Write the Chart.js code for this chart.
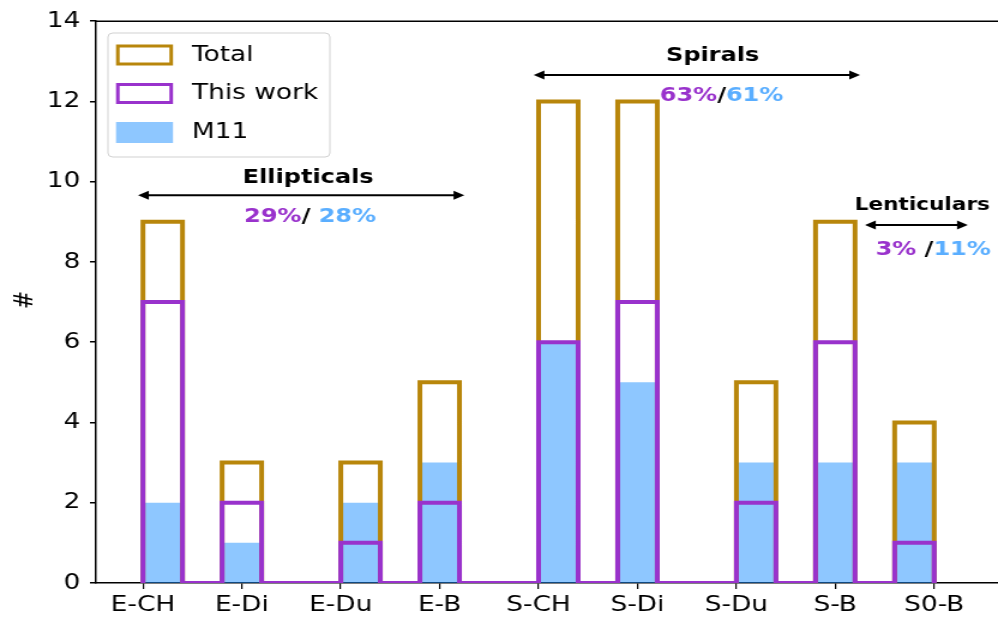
<!DOCTYPE html>
<html>
<head>
<meta charset="utf-8">
<script src="https://cdn.jsdelivr.net/npm/chart.js@4/dist/chart.umd.min.js"></script>
<style>
  html, body { margin: 0; padding: 0; background: #fff; overflow: hidden; }
  #wrap { width: 832px; height: 621px; transform: scaleX(1.1995); transform-origin: 0 0; }
  canvas { display: block; }
</style>
</head>
<body>
<div id="wrap"><canvas id="c" width="832" height="621"></canvas></div>
<script>
// Morphological classes and galaxy counts per class
const categories     = ['E-CH', 'E-Di', 'E-Du', 'E-B', 'S-CH', 'S-Di', 'S-Du', 'S-B', 'S0-B'];
const totalCounts    = [9, 3, 3, 5, 12, 12, 5, 9, 4];
const thisWorkCounts = [7, 2, 1, 2, 6, 7, 2, 6, 1];
const m11Counts      = [2, 1, 2, 3, 6, 5, 3, 3, 3];
const yTicks         = [0, 2, 4, 6, 8, 10, 12, 14];

// Group labels and the share of each sample falling in the group
const groupLabels    = ['Ellipticals', 'Spirals', 'Lenticulars'];
const thisWorkShares = ['29%', '63%', '3% '];
const m11Shares      = [' 28%', '61%', '11%'];

const GOLD   = '#b8860b';
const PURPLE = '#9932cc';
const BLUE_FILL = 'rgba(30,144,255,0.5)';
const BLUE_TEXT = '#5aaeff';
const FONT = 'DejaVu Sans';

// Histogram over [0, 8] with 20 equal bins; each class index falls in one bin
const BIN_COUNT = 20;
const RANGE_MAX = categories.length - 1;
const binWidth = RANGE_MAX / BIN_COUNT;

function histogramSteps(counts) {
  const bins = new Array(BIN_COUNT).fill(0);
  counts.forEach((n, i) => {
    const b = Math.min(Math.floor(i * BIN_COUNT / RANGE_MAX), BIN_COUNT - 1);
    bins[b] += n;
  });
  const pts = [{ x: 0, y: 0 }];
  bins.forEach((n, k) => pts.push({ x: k * binWidth, y: n }));
  pts.push({ x: RANGE_MAX, y: bins[BIN_COUNT - 1] });
  pts.push({ x: RANGE_MAX, y: 0 });
  return pts;
}

const legendItems = [
  { label: 'Total', stroke: GOLD },
  { label: 'This work', stroke: PURPLE },
  { label: 'M11', fill: BLUE_FILL }
];

// Annotation layout in data coordinates
const groupMarks = [
  { arrow: [-0.05, 3.25], arrowY: 9.66, textX: 1.67, textY: 10.1, pctX: 1.69, pctY: 9.12, size: 20 },
  { arrow: [3.95, 7.25],  arrowY: 12.66, textX: 5.76, textY: 13.15, pctX: 5.85, pctY: 12.14, size: 20 },
  { arrow: [7.30, 8.34],  arrowY: 8.92, textX: 7.88, textY: 9.42, pctX: 7.99, pctY: 8.3, size: 18 }
];

function drawArrow(ctx, x1, x2, y) {
  const head = 9, half = 4.5;
  ctx.save();
  ctx.strokeStyle = '#000';
  ctx.fillStyle = '#000';
  ctx.lineWidth = 2;
  ctx.beginPath();
  ctx.moveTo(x1 + head * 0.6, y);
  ctx.lineTo(x2 - head * 0.6, y);
  ctx.stroke();
  ctx.beginPath();
  ctx.moveTo(x1, y); ctx.lineTo(x1 + head, y - half); ctx.lineTo(x1 + head, y + half); ctx.closePath();
  ctx.fill();
  ctx.beginPath();
  ctx.moveTo(x2, y); ctx.lineTo(x2 - head, y - half); ctx.lineTo(x2 - head, y + half); ctx.closePath();
  ctx.fill();
  ctx.restore();
}

function drawPieces(ctx, pieces, cx, cy, font) {
  ctx.save();
  ctx.font = font;
  ctx.textBaseline = 'middle';
  ctx.textAlign = 'left';
  const total = pieces.reduce((w, p) => w + ctx.measureText(p.text).width, 0);
  let x = cx - total / 2;
  pieces.forEach(p => {
    ctx.fillStyle = p.color;
    ctx.fillText(p.text, x, cy);
    x += ctx.measureText(p.text).width;
  });
  ctx.restore();
}

const decorations = {
  id: 'decorations',
  afterDraw(chart) {
    const ctx = chart.ctx;
    const area = chart.chartArea;
    const xs = chart.scales.x, ys = chart.scales.y;

    // top spine
    ctx.save();
    ctx.strokeStyle = '#000';
    ctx.lineWidth = 1.5;
    ctx.beginPath();
    ctx.moveTo(area.left, area.top);
    ctx.lineTo(area.right, area.top);
    ctx.stroke();
    ctx.restore();

    // y axis title
    ctx.save();
    ctx.translate(21, 300);
    ctx.rotate(-Math.PI / 2);
    ctx.font = `22px "${FONT}"`;
    ctx.fillStyle = '#000';
    ctx.textAlign = 'center';
    ctx.textBaseline = 'middle';
    ctx.fillText('#', 0, 0);
    ctx.restore();

    // group arrows, names and shares
    groupMarks.forEach((g, i) => {
      drawArrow(ctx, xs.getPixelForValue(g.arrow[0]), xs.getPixelForValue(g.arrow[1]), ys.getPixelForValue(g.arrowY));
      drawPieces(ctx, [{ text: groupLabels[i], color: '#000' }],
        xs.getPixelForValue(g.textX), ys.getPixelForValue(g.textY), `bold ${g.size}px "${FONT}"`);
      drawPieces(ctx, [
        { text: thisWorkShares[i], color: PURPLE },
        { text: '/', color: '#000' },
        { text: m11Shares[i], color: BLUE_TEXT }
      ], xs.getPixelForValue(g.pctX), ys.getPixelForValue(g.pctY), `bold 20px "${FONT}"`);
    });

    // legend
    ctx.save();
    const fx = 90, fy = 33, fw = 185, fh = 124, r = 4;
    ctx.beginPath();
    ctx.roundRect(fx, fy, fw, fh, r);
    ctx.fillStyle = 'rgba(255,255,255,0.8)';
    ctx.fill();
    ctx.strokeStyle = 'rgba(204,204,204,0.9)';
    ctx.lineWidth = 1;
    ctx.stroke();
    const rowY = [55, 93.5, 132.5];
    legendItems.forEach((it, i) => {
      const px = 96.7, pw = 47.5, ph = 21, py = rowY[i] - ph / 2;
      if (it.fill) {
        ctx.fillStyle = it.fill;
        ctx.fillRect(px, py, pw, ph);
      } else {
        ctx.strokeStyle = it.stroke;
        ctx.lineWidth = 3;
        ctx.strokeRect(px + 1.5, py + 1.5, pw - 3, ph - 3);
      }
      ctx.fillStyle = '#000';
      ctx.font = `22px "${FONT}"`;
      ctx.textBaseline = 'middle';
      ctx.textAlign = 'left';
      ctx.fillText(it.label, 160, rowY[i]);
    });
    ctx.restore();
  }
};

const stepStyle = { stepped: true, pointRadius: 0, tension: 0, borderJoinStyle: 'miter', borderCapStyle: 'butt' };

new Chart(document.getElementById('c'), {
  type: 'line',
  data: {
    datasets: [
      { ...stepStyle, label: 'This work', data: histogramSteps(thisWorkCounts), borderColor: PURPLE, borderWidth: 4, fill: false, clip: { left: false, top: false, right: false, bottom: 0 } },
      { ...stepStyle, label: 'Total', data: histogramSteps(totalCounts), borderColor: GOLD, borderWidth: 4, fill: false, clip: { left: false, top: false, right: false, bottom: 0 } },
      { ...stepStyle, label: 'M11', data: histogramSteps(m11Counts), borderWidth: 0, borderColor: 'rgba(0,0,0,0)', backgroundColor: BLUE_FILL, fill: 'origin' }
    ]
  },
  options: {
    responsive: false,
    animation: false,
    devicePixelRatio: 1,
    events: [],
    parsing: false,
    layout: { padding: { top: 18.5, right: 0, left: 0, bottom: 0 } },
    plugins: { legend: { display: false }, tooltip: { enabled: false } },
    scales: {
      x: {
        type: 'linear',
        min: -0.475,
        max: 8.645,
        afterBuildTicks: s => { s.ticks = categories.map((_, i) => ({ value: i })); },
        afterFit: s => { s.height = 38; },
        ticks: {
          callback: (v, i) => categories[i],
          font: { family: FONT, size: 22 },
          color: '#000',
          padding: 3,
          maxRotation: 0,
          autoSkip: false
        },
        grid: { drawOnChartArea: false, drawTicks: true, tickLength: 6, color: '#000', lineWidth: 1.2 },
        border: { display: true, color: '#000', width: 1.5 }
      },
      y: {
        min: 0,
        max: 14,
        afterBuildTicks: s => { s.ticks = yTicks.map(v => ({ value: v })); },
        afterFit: s => { s.width = 80; },
        ticks: { font: { family: FONT, size: 22 }, color: '#000', padding: 8 },
        grid: { drawOnChartArea: false, drawTicks: true, tickLength: 5, color: '#000', lineWidth: 1.5 },
        border: { display: true, color: '#000', width: 1.5 }
      }
    }
  },
  plugins: [decorations]
});
</script>
</body>
</html>
